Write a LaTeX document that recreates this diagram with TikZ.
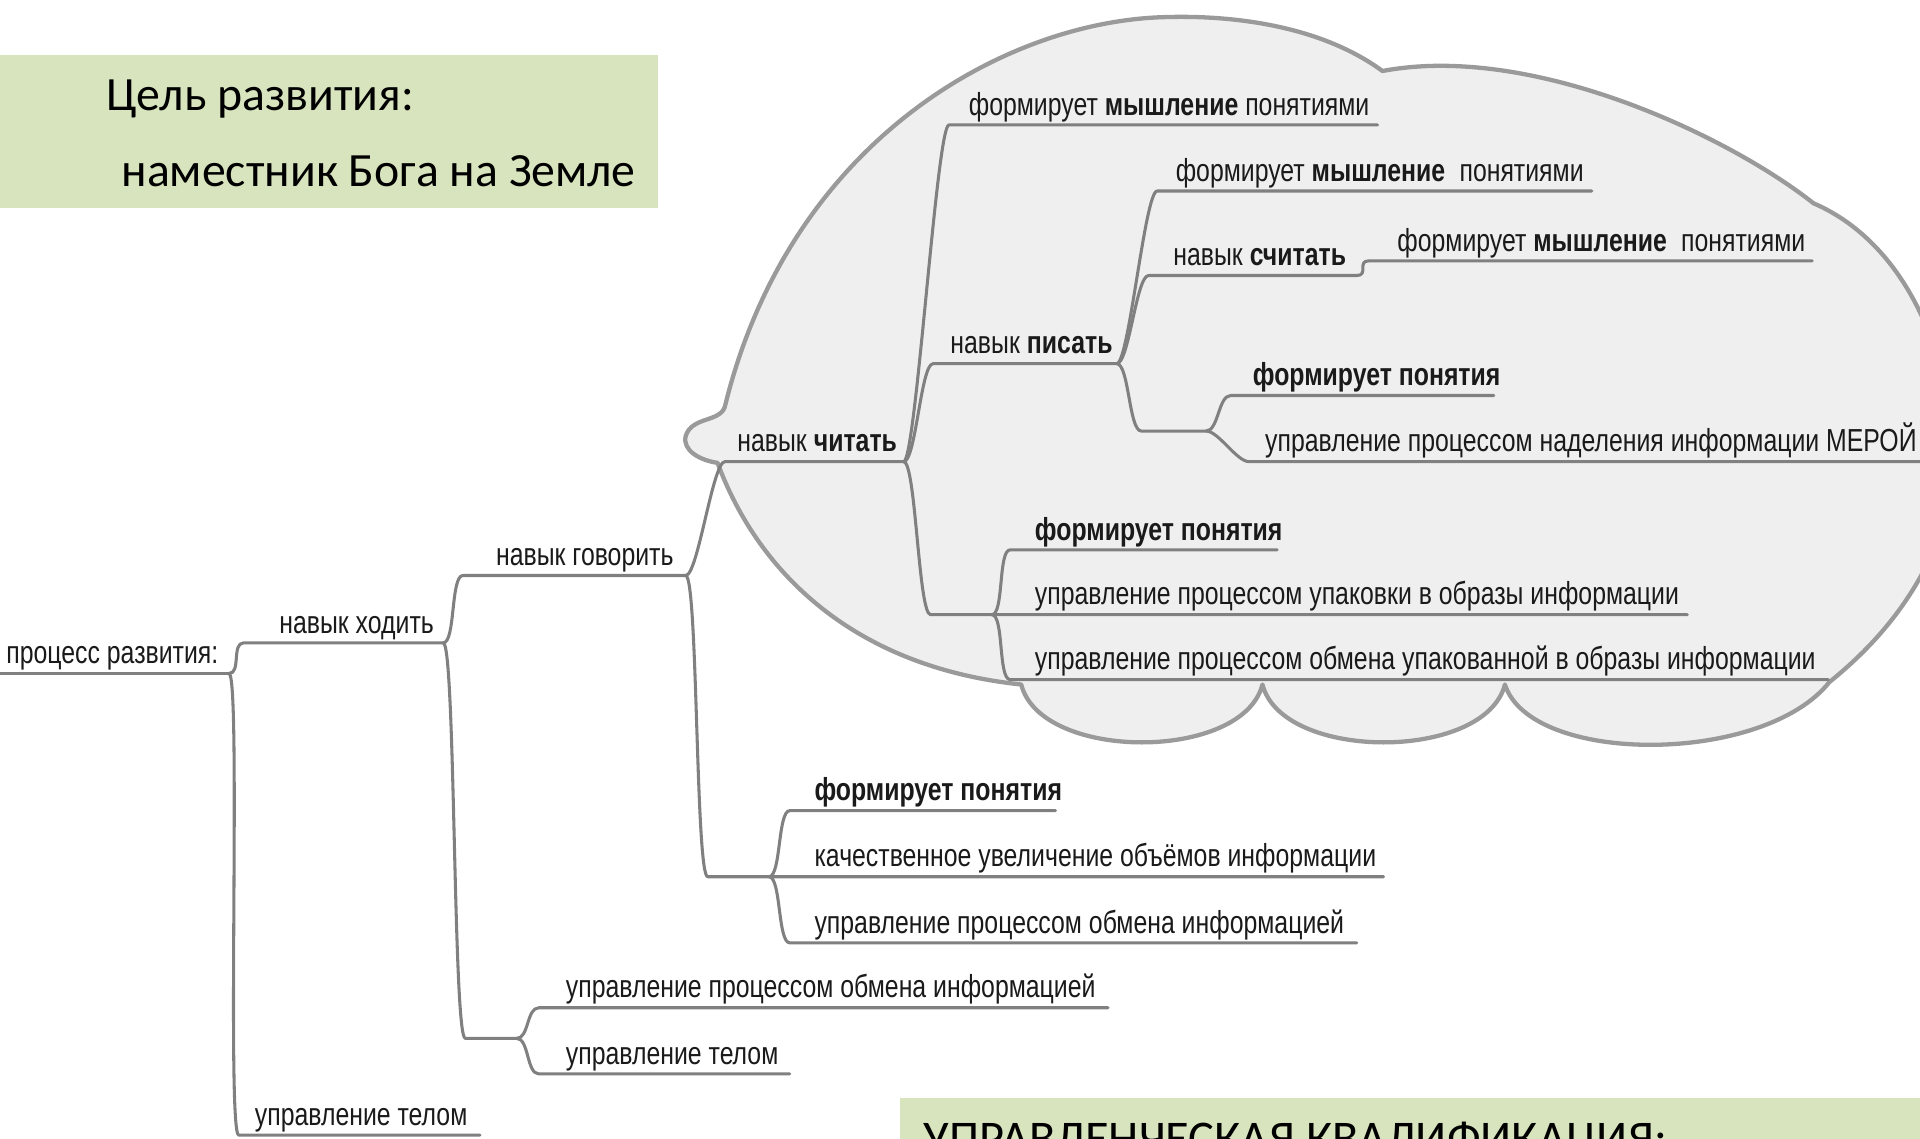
\documentclass[tikz,border=0pt]{standalone}
\usepackage{fontspec}
\setmainfont[FakeStretch=0.78]{Liberation Sans}
\newfontfamily\calfont{Carlito}
\usetikzlibrary{calc}
\definecolor{boxgreen}{HTML}{D7E4BD}
\definecolor{cloudfill}{HTML}{EFEFEF}
\definecolor{cloudline}{HTML}{9A9A9A}
\definecolor{linegray}{HTML}{808080}
\definecolor{txt}{HTML}{1A1A1A}
\begin{document}
\begin{tikzpicture}[x=1pt,y=-1pt,
  mm/.style={anchor=base west, inner sep=0pt, text=txt, font=\fontsize{26}{30}\selectfont},
  br/.style={draw=linegray, line width=2.5pt, line cap=round, line join=round},
  conn/.style={to path={.. controls ($(\tikztostart)+(10,0)$) and ($(\tikztotarget)+(-10,0)$) .. (\tikztotarget)}},
  gbox/.style={fill=boxgreen, draw=none},
  gtext/.style={anchor=base west, inner sep=0pt, font=\calfont\fontsize{39}{44}\selectfont, text=black},
  cloud/.style={fill=cloudfill, draw=cloudline, line width=3.5pt, line join=round}
]
\useasboundingbox (0,0) rectangle (1568,930);
\clip (0,0) rectangle (1568,930);
\fill[white] (0,0) rectangle (1568,930);

% cloud
\path[cloud] (834,559)
  .. controls (850,622) and (1015,622) .. (1031,559)
  .. controls (1047,622) and (1213,622) .. (1229,559)
  .. controls (1250,625) and (1440,625) .. (1494,557)
  .. controls (1540,520) and (1580,470) .. (1595,400)
  .. controls (1600,300) and (1560,200) .. (1481,166)
  .. controls (1410,110) and (1250,35) .. (1129,58)
  .. controls (1080,22) and (1010,12) .. (950,14)
  .. controls (820,18) and (645,115) .. (592,332)
  .. controls (588,345) and (565,340) .. (560,356)
  .. controls (557,368) and (572,376) .. (586,378)
  .. controls (620,470) and (700,545) .. cycle;

% green boxes
\path[gbox] (0,45) rectangle (537,170);
\node[gtext] (g1) at (87,90) {Цель развития:};
\node[gtext] (g2) at (99,152) {наместник Бога на Земле};

% nodes
\node[mm] (R) at (5,542) {процесс развития:};
\coordinate (Ra) at (0,550); \coordinate (Rb) at (187,550);
\node[mm] (A) at (228,517) {навык ходить};
\coordinate (Aa) at (199,525); \coordinate (Ab) at (362,525);
\node[mm] (B) at (208,919) {управление телом};
\coordinate (Ba) at (195,927); \coordinate (Bb) at (392,927);
\node[mm] (C) at (405,462) {навык говорить};
\coordinate (Ca) at (378,470); \coordinate (Cb) at (560,470);
\coordinate (J1a) at (380,848); \coordinate (J1b) at (422,848);
\node[mm] (D) at (462,815) {управление процессом обмена информацией};
\coordinate (Da) at (440,823); \coordinate (Db) at (905,823);
\node[mm] (E) at (462,869) {управление телом};
\coordinate (Ea) at (440,877); \coordinate (Eb) at (645,877);
\node[mm] (F) at (602,369) {навык \textbf{читать}};
\coordinate (Fa) at (592,377); \coordinate (Fb) at (738,377);
\coordinate (J2a) at (578,716); \coordinate (J2b) at (628,716);
\node[mm] (G) at (665,654) {\textbf{формирует понятия}};
\coordinate (Ga) at (645,662); \coordinate (Gb) at (862,662);
\node[mm] (H) at (665,708) {качественное увеличение объёмов информации};
\coordinate (Hb) at (1130,716);
\node[mm] (I) at (665,762) {управление процессом обмена информацией};
\coordinate (Ia) at (645,770); \coordinate (Ib) at (1108,770);
\node[mm] (K) at (791,94) {формирует \textbf{мышление} понятиями};
\coordinate (Ka) at (775,102); \coordinate (Kb) at (1125,102);
\node[mm] (L) at (776,289) {навык \textbf{писать}};
\coordinate (La) at (762,297); \coordinate (Lb) at (912,297);
\coordinate (J3a) at (760,502); \coordinate (J3b) at (810,502);
\node[mm] (M) at (845,441) {\textbf{формирует понятия}};
\coordinate (Ma) at (825,449); \coordinate (Mb) at (1043,449);
\node[mm] (N) at (845,494) {управление процессом упаковки в образы информации};
\coordinate (Nb) at (1378,502);
\node[mm] (O) at (845,547) {управление процессом обмена упакованной в образы информации};
\coordinate (Oa) at (825,555); \coordinate (Ob) at (1493,555);
\node[mm] (P) at (960,148) {формирует \textbf{мышление}\hspace{6pt} понятиями};
\coordinate (Pa) at (945,156); \coordinate (Pb) at (1300,156);
\node[mm] (Q) at (958,217) {навык \textbf{считать}};
\coordinate (Qa) at (938,225); \coordinate (Qb) at (1108,225);
\node[mm] (Q2) at (1141,205) {формирует \textbf{мышление}\hspace{6pt} понятиями};
\coordinate (Q2a) at (1118,213); \coordinate (Q2b) at (1480,213);
\coordinate (J4a) at (932,352); \coordinate (J4b) at (985,352);
\node[mm] (S) at (1023,315) {\textbf{формирует понятия}};
\coordinate (Sa) at (1005,323); \coordinate (Sb) at (1220,323);
\node[mm] (T) at (1033,369) {управление процессом наделения информации МЕРОЙ};
\coordinate (Ta) at (1020,377); \coordinate (Tb) at (1580,377);

% connectors
\draw[br] (Ra) -- (Rb);
\draw[br] (Rb) to[conn] (Aa) -- (Ab);
\draw[br] (Rb) to[conn] (Ba) -- (Bb);
\draw[br] (Ab) to[conn] (Ca) -- (Cb);
\draw[br] (Ab) to[conn] (J1a) -- (J1b);
\draw[br] (J1b) to[conn] (Da) -- (Db);
\draw[br] (J1b) to[conn] (Ea) -- (Eb);
\draw[br] (Cb) to[conn] (Fa) -- (Fb);
\draw[br] (Cb) to[conn] (J2a) -- (Hb);
\draw[br] (J2b) to[conn] (Ga) -- (Gb);
\draw[br] (J2b) to[conn] (Ia) -- (Ib);
\draw[br] (Fb) to[conn] (Ka) -- (Kb);
\draw[br] (Fb) to[conn] (La) -- (Lb);
\draw[br] (Fb) to[conn] (J3a) -- (Nb);
\draw[br] (J3b) to[conn] (Ma) -- (Mb);
\draw[br] (J3b) to[conn] (Oa) -- (Ob);
\draw[br] (Lb) to[conn] (Pa) -- (Pb);
\draw[br] (Lb) to[conn] (Qa) -- (Qb);
\draw[br] (Qb) to[conn] (Q2a) -- (Q2b);
\draw[br] (Lb) to[conn] (J4a) -- (J4b);
\draw[br] (J4b) to[conn] (Sa) -- (Sb);
\draw[br] (J4b) to[conn] (Ta) -- (Tb);

% bottom green box
\path[gbox] (735,897) rectangle (1568,935);
\node[gtext, font=\calfont\fontsize{39.5}{44}\selectfont] (g3) at (754,943) {УПРАВЛЕНЧЕСКАЯ КВАЛИФИКАЦИЯ:};
\end{tikzpicture}
\end{document}
